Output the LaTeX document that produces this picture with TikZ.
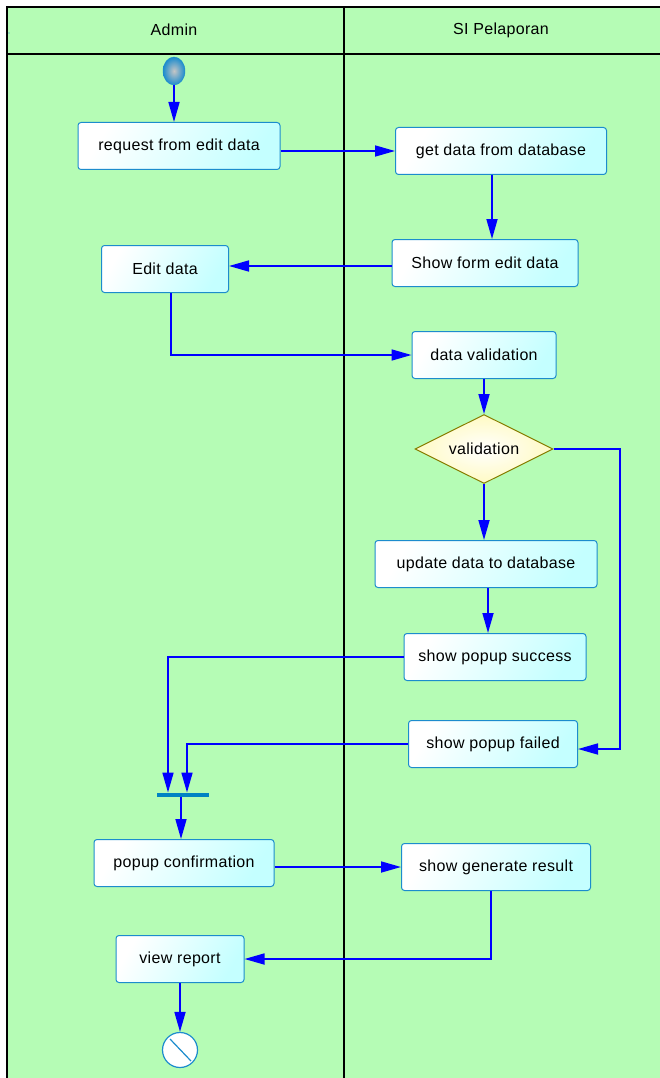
\documentclass[tikz,border=0pt]{standalone}
\usepackage{fontspec}
\setmainfont{Liberation Sans}[LetterSpace=2]
\usetikzlibrary{arrows.meta,shapes.geometric,calc}

\definecolor{lanegreen}{RGB}{181,252,181}
\definecolor{boxline}{RGB}{28,140,205}
\definecolor{boxcyan}{RGB}{196,255,255}
\definecolor{diamline}{RGB}{135,125,0}
\definecolor{diamfill}{RGB}{255,250,195}
\definecolor{barblue}{RGB}{0,130,195}

\tikzstyle{act}  = [rectangle, rounded corners=3pt, draw=boxline, line width=1pt,
                    left color=white, right color=boxcyan, shading angle=60,
                    minimum height=47pt, font=\fontsize{16}{18}\selectfont]
\tikzstyle{dec}  = [diamond, aspect=2, draw=diamline, line width=1pt, inner color=white,
                    outer color=diamfill, minimum width=138pt, minimum height=69pt,
                    inner sep=0pt, font=\fontsize{16}{18}\selectfont]
\tikzstyle{flow} = [draw=blue, line width=1.7pt, -{Triangle[length=20pt,width=11pt]}]
\tikzstyle{lane} = [draw=black, line width=1.7pt]

\begin{document}
\begin{tikzpicture}[x=1pt,y=-1pt]
  \useasboundingbox (0,0) rectangle (659,1078);
  % swimlanes
  \fill[lanegreen] (7,7) rectangle (661,1080);
  \draw[lane] (7,1080) -- (7,7) -- (661,7);
  \draw[lane] (7,54) -- (661,54);
  \draw[lane] (344,7) -- (344,1080);
  \fill[boxline] (9,33) circle (0.7pt);
  \node[font=\fontsize{16}{18}\selectfont] (admin) at (174,30) {Admin};
  \node[font=\fontsize{16}{18}\selectfont] (si) at (501,30) {SI Pelaporan};

  % start / end
  \shade[inner color=gray!45, outer color=boxline, draw=boxline]
    (174,71) ellipse (11pt and 14pt);
  \coordinate (start) at (174,85);
  \node[circle, draw=boxline, fill=white, line width=1.2pt, minimum width=33pt,
        minimum height=35pt, inner sep=0pt] (end) at (180,1050) {};
  \draw[boxline, line width=1.2pt] ($(end.center)+(-10,-11)$) -- ($(end.center)+(11,11)$);

  % activities
  \node[act, minimum width=202pt] (req)  at (179,146) {request from edit data};
  \node[act, minimum width=211pt] (get)  at (501,151) {get data from database};
  \node[act, minimum width=186pt] (form) at (485,263) {Show form edit data};
  \node[act, minimum width=127pt] (edit) at (165,269) {Edit data};
  \node[act, minimum width=144pt] (val)  at (484,355) {data validation};
  \node[dec]                      (diam) at (484,449) {validation};
  \node[act, minimum width=222pt] (upd)  at (486,564) {update data to database};
  \node[act, minimum width=182pt] (succ) at (495,657) {show popup success};
  \node[act, minimum width=169pt] (fail) at (493,744) {show popup failed};
  \node[fill=barblue, minimum width=52pt, minimum height=4.5pt, inner sep=0pt]
        (bar) at (183,795) {};
  \node[act, minimum width=180pt] (conf) at (184,863) {popup confirmation};
  \node[act, minimum width=189pt] (gen)  at (496,867) {show generate result};
  \node[act, minimum width=128pt] (view) at (180,959) {view report};

  % flows
  \draw[flow] (start) -- (start |- req.north);
  \draw[flow] (req.east |- get) -- (get.west);
  \draw[flow] ([xshift=-9pt]get.south) -- ([xshift=-9pt]get.south |- form.north);
  \draw[flow] ([yshift=-3pt]form.west) -- ([yshift=-3pt]form.west -| edit.east);
  \draw[flow] ([xshift=6pt]edit.south) |- (val.west);
  \draw[flow] (val.south) -- (diam.north);
  \draw[flow] (diam.south) -- (diam.south |- upd.north);
  \draw[flow] (diam.east) -- ++(66.5,0) |- ([yshift=-5pt]fail.east);
  \draw[flow] ([xshift=2pt]upd.south) -- ([xshift=2pt]upd.south |- succ.north);
  \draw[flow] (succ.west) -| ([xshift=-15pt]bar.north);
  \draw[flow] (fail.west) -| ([xshift=4pt]bar.north);
  \draw[flow] ([xshift=-2pt]bar.south) -- ([xshift=-2pt]bar.south |- conf.north);
  \draw[flow] (conf.east |- gen) -- (gen.west);
  \draw[flow] ([xshift=-5pt]gen.south) |- (view.east);
  \draw[flow] (view.south) -- (end.north);
\end{tikzpicture}
\end{document}
